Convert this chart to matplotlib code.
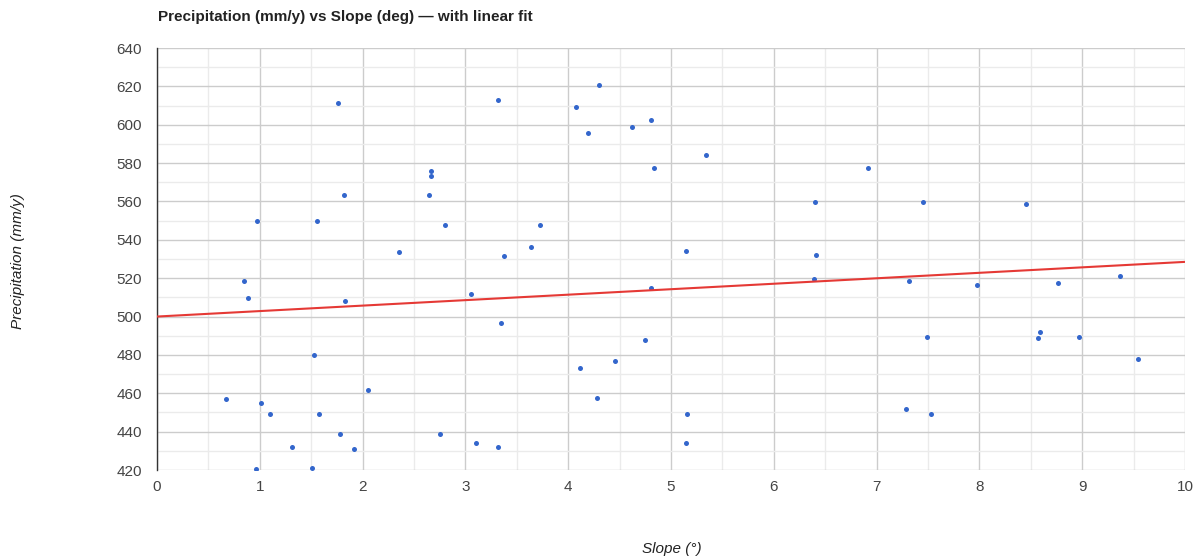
import matplotlib
matplotlib.use("Agg")
import matplotlib.pyplot as plt
from matplotlib.ticker import MultipleLocator

plt.rcParams['font.family'] = ['Liberation Sans', 'DejaVu Sans']

slope_deg = [0.67, 0.85, 0.89, 0.97, 0.96, 1.01, 1.10, 1.31, 1.51, 1.53, 1.56, 1.58,
             1.76, 1.78, 1.82, 1.83, 1.92, 2.05, 2.35, 2.65, 2.67, 2.67, 2.80, 2.75,
             3.05, 3.10, 3.32, 3.32, 3.35, 3.38, 3.64, 3.73, 4.08, 4.11, 4.19, 4.28,
             4.30, 4.46, 4.62, 4.81, 4.83, 4.75, 4.81, 5.34, 5.15, 5.16, 5.15, 6.40,
             6.41, 6.39, 6.92, 7.45, 8.45, 7.32, 7.49, 7.29, 7.53, 7.98, 8.57, 8.59,
             8.76, 8.97, 9.37, 9.54]
precip_mm = [457.2, 518.4, 509.7, 550.0, 420.7, 454.8, 449.4, 431.8, 421.0, 480.1, 550.0, 449.4,
             611.2, 438.6, 563.5, 508.3, 430.9, 461.5, 533.8, 563.2, 575.7, 573.4, 547.6, 438.6,
             511.9, 433.9, 612.8, 432.0, 496.8, 531.4, 536.3, 547.6, 609.1, 473.2, 595.9, 457.3,
             620.6, 476.8, 598.8, 602.5, 577.5, 487.8, 514.9, 584.2, 534.2, 449.2, 434.0, 559.7,
             532.0, 519.6, 577.5, 559.7, 558.7, 518.5, 489.3, 451.8, 449.2, 516.5, 488.8, 491.9,
             517.5, 489.3, 521.1, 477.9]

fit_intercept = 500.0
fit_slope = 2.85
fit_x = [0, 10]
fit_y = [fit_intercept + fit_slope * x for x in fit_x]

x_ticks = list(range(0, 11))
y_ticks = list(range(420, 641, 20))

W, H = 1197, 559
fig = plt.figure(figsize=(W / 100, H / 100), dpi=100)
ax = fig.add_axes([157 / W, 1 - 470 / H, (1185 - 157) / W, (470 - 48) / H])

ax.set_xlim(0, 10)
ax.set_ylim(420, 640)
ax.xaxis.set_major_locator(MultipleLocator(1))
ax.xaxis.set_minor_locator(MultipleLocator(0.5))
ax.yaxis.set_major_locator(MultipleLocator(20))
ax.yaxis.set_minor_locator(MultipleLocator(10))
ax.grid(which='major', color='#cccccc', linewidth=1)
ax.grid(which='minor', color='#ebebeb', linewidth=1)
ax.set_axisbelow(True)

for s in ['top', 'right', 'bottom']:
    ax.spines[s].set_visible(False)
ax.spines['left'].set_color('#333333')
ax.spines['left'].set_linewidth(1)

ax.tick_params(which='both', length=0)
ax.tick_params(axis='both', labelsize=11, labelcolor='#444444')
ax.tick_params(axis='x', pad=7)
ax.tick_params(axis='y', pad=11)
ax.set_xticks(x_ticks)
ax.set_yticks(y_ticks)

ax.scatter(slope_deg, precip_mm, s=13, color='#3366cc', zorder=3, linewidths=0)
ax.plot(fit_x, fit_y, color='#e53935', linewidth=1.5, zorder=4, solid_capstyle='butt')

fig.text(158 / W, 1 - 17 / H, 'Precipitation (mm/y) vs Slope (deg) \u2014 with linear fit',
         fontsize=11, fontweight='bold', color='#222222', ha='left', va='center')
fig.text(18 / W, 1 - 261 / H, 'Precipitation (mm/y)', rotation=90, fontsize=11,
         style='italic', color='#222222', ha='center', va='center')
fig.text(672 / W, 1 - 549 / H, 'Slope (\u00b0)', fontsize=11, style='italic',
         color='#222222', ha='center', va='center')

fig.savefig('out.png', dpi=100)
